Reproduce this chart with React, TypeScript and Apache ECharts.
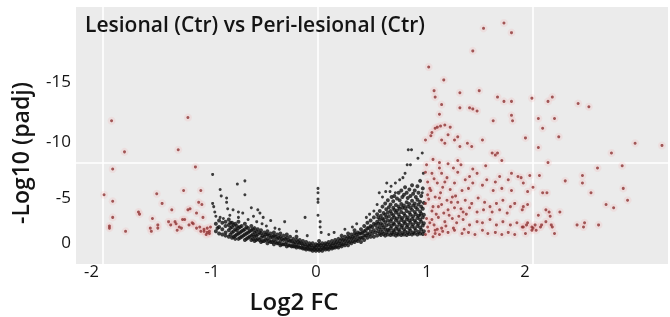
import React, { useEffect, useRef } from 'react';
import * as echarts from 'echarts';

const titleText = 'Lesional (Ctr) vs Peri-lesional (Ctr)';
const xAxisTitle = 'Log2 FC';
const yAxisTitle = '-Log10 (padj)';
const xTickLabels = ['-2', '-1', '0', '1', '2'];
const xTickValues = [-2.107, -0.986, -0.019, 1.014, 1.926];
const yTickLabels = ['0', '-5', '-10', '-15'];
const yTickValues = [0.4, 4.5, 9.8, 15.3];
const xGridValues = [-2, 0, 2];
const yGridValues = [7.66];

// dense V-shaped band of non-significant genes: [log2FC, list of -log10 padj]
const bandColumns: [number, number[]][] = [
  [-0.95, [1.3, 2.0]], [-0.935, [1.6]], [-0.92, [1.1, 1.7, 2.3]], [-0.89, [1.0, 1.5, 2.1]],
  [-0.86, [0.9, 1.2, 1.8, 2.2]], [-0.83, [0.8, 1.4, 1.9, 2.4]], [-0.815, [1.0, 1.6, 2.1]],
  [-0.8, [0.7, 1.2, 1.7, 2.1]], [-0.785, [0.8, 1.3, 1.9]], [-0.77, [0.6, 0.9, 1.5, 2.0]],
  [-0.755, [1.0, 1.4, 1.8]], [-0.74, [0.6, 1.1, 1.6, 2.2]], [-0.725, [0.7, 1.2, 1.7]],
  [-0.71, [0.8, 1.3, 1.8]], [-0.695, [0.9, 1.4]], [-0.68, [0.5, 1.0, 1.5, 2.0]],
  [-0.665, [0.6, 1.1, 1.7]], [-0.65, [0.7, 1.2, 1.6]], [-0.635, [0.8, 1.3]],
  [-0.62, [0.5, 0.9, 1.4, 1.8]], [-0.605, [0.6, 1.0, 1.5]], [-0.59, [0.4, 0.8, 1.2, 1.6]],
  [-0.575, [0.5, 0.9, 1.3]], [-0.56, [0.6, 1.0, 1.5]], [-0.545, [0.5, 1.2]],
  [-0.53, [0.3, 0.7, 1.1, 1.4]], [-0.515, [0.4, 0.9]], [-0.5, [0.4, 0.8, 1.2]],
  [-0.485, [0.5, 1.0]], [-0.47, [0.2, 0.6, 1.0, 1.3]], [-0.455, [0.4, 0.9]],
  [-0.44, [0.3, 0.7, 1.1]], [-0.425, [0.3, 0.8]], [-0.41, [0.1, 0.5, 0.9, 1.2]],
  [-0.395, [0.3, 0.8]], [-0.38, [0.2, 0.6, 1.0]], [-0.365, [0.2, 0.7]],
  [-0.35, [0.0, 0.4, 0.8, 1.1]], [-0.335, [0.1, 0.6]], [-0.32, [0.1, 0.5, 0.9]],
  [-0.305, [0.1, 0.6]], [-0.29, [-0.1, 0.3, 0.7, 1.0]], [-0.275, [0.0, 0.5]],
  [-0.26, [0.0, 0.4, 0.8]], [-0.245, [-0.1, 0.4]], [-0.23, [-0.1, 0.2, 0.6]],
  [-0.215, [-0.1, 0.3]], [-0.2, [-0.2, 0.1, 0.5, 0.8]], [-0.185, [-0.1, 0.3]],
  [-0.17, [-0.2, 0.2, 0.5]], [-0.155, [-0.2, 0.2]], [-0.14, [-0.3, 0.0, 0.4]],
  [-0.125, [-0.3, 0.1]], [-0.11, [-0.4, -0.1, 0.3]], [-0.095, [-0.3, 0.0]],
  [-0.08, [-0.4, -0.1, 0.2]], [-0.065, [-0.4, 0.0]], [-0.05, [-0.5, -0.2, 0.2]],
  [-0.035, [-0.4, -0.1]], [-0.02, [-0.5, -0.2, 0.1]], [-0.005, [-0.4, 0.0]],
  [0.01, [-0.5, -0.2, 0.1, 0.4]], [0.025, [-0.4, 0.0]], [0.04, [-0.5, -0.2, 0.2]],
  [0.055, [-0.3, 0.0]], [0.07, [-0.4, -0.1, 0.2]], [0.085, [-0.3, 0.1]],
  [0.1, [-0.4, -0.1, 0.3]], [0.115, [-0.2, 0.1]], [0.13, [-0.3, 0.0, 0.4]],
  [0.145, [-0.2, 0.2]], [0.16, [-0.2, 0.1, 0.5]], [0.175, [-0.1, 0.3]],
  [0.19, [-0.2, 0.2, 0.6]], [0.205, [0.0, 0.4]], [0.22, [-0.1, 0.2, 0.6, 0.9]],
  [0.235, [0.1, 0.5]], [0.25, [0.0, 0.4, 0.8]], [0.265, [0.2, 0.6]],
  [0.28, [0.0, 0.4, 0.8, 1.1]], [0.295, [0.3, 0.7]], [0.31, [0.2, 0.6, 1.0]],
  [0.325, [0.4, 0.8]], [0.34, [0.3, 0.7, 1.1, 1.4]], [0.355, [0.5, 1.0]],
  [0.37, [0.4, 0.8, 1.2]], [0.385, [0.6, 1.1]], [0.4, [0.3, 0.7, 1.1, 1.5]],
  [0.415, [0.7, 1.2]], [0.43, [0.5, 0.9, 1.3, 1.8]], [0.445, [0.9, 1.4]],
  [0.46, [0.7, 1.1, 1.6, 2.1]], [0.475, [1.0, 1.6]], [0.49, [0.8, 1.3, 1.8, 2.3]],
  [0.505, [1.1, 1.7]], [0.52, [0.8, 1.4, 2.0, 2.6]], [0.535, [1.2, 1.9]],
  [0.55, [0.9, 1.6, 2.2, 2.9]], [0.56, [1.3, 2.0, 2.6]], [0.575, [1.1, 1.7, 2.4, 3.2]],
  [0.585, [0.95, 1.45, 2.05, 2.75]], [0.6, [1.25, 1.9, 2.5, 3.6]], [0.61, [1.05, 1.65, 2.35, 3.0]],
  [0.625, [0.9, 1.5, 2.15, 2.85, 3.9]], [0.635, [1.2, 1.85, 2.6, 3.35]],
  [0.65, [1.0, 1.45, 2.3, 3.05, 4.2]], [0.66, [1.35, 1.95, 2.7, 3.55]],
  [0.675, [0.95, 1.6, 2.25, 3.2, 3.8]], [0.685, [1.15, 1.8, 2.45, 2.95, 4.5]],
  [0.7, [1.0, 1.4, 2.05, 2.8, 3.5, 4.1]], [0.71, [1.25, 1.95, 2.6, 3.3, 4.6]],
  [0.725, [0.9, 1.55, 2.3, 3.05, 3.75]], [0.735, [1.1, 1.75, 2.5, 3.25, 4.35]],
  [0.75, [1.0, 1.45, 2.15, 2.9, 3.6, 4.9]], [0.76, [1.3, 1.95, 2.65, 3.4, 4.2]],
  [0.775, [0.95, 1.65, 2.35, 3.1, 3.85, 5.1]], [0.785, [1.15, 1.85, 2.55, 3.5, 4.5]],
  [0.8, [1.0, 1.5, 2.2, 2.95, 3.7, 4.7]], [0.81, [1.3, 2.05, 2.75, 3.45, 5.4]],
  [0.825, [0.95, 1.7, 2.4, 3.2, 4.0, 4.9]], [0.835, [1.2, 1.9, 2.6, 3.6, 4.4]],
  [0.85, [1.05, 1.55, 2.3, 3.05, 3.85, 5.2]], [0.86, [1.35, 2.1, 2.85, 3.5, 4.6]],
  [0.875, [1.0, 1.75, 2.45, 3.3, 4.15, 5.6]], [0.885, [1.2, 1.95, 2.7, 3.7, 4.8]],
  [0.9, [1.1, 1.6, 2.3, 3.1, 3.9, 5.1]], [0.91, [1.4, 2.15, 2.9, 3.55, 4.5]],
  [0.925, [1.0, 1.8, 2.55, 3.35, 4.25, 5.5]], [0.935, [1.25, 2.0, 2.75, 3.8, 4.9]],
  [0.95, [1.1, 1.65, 2.4, 3.15, 4.05, 6.0]], [0.96, [1.45, 2.2, 2.95, 3.6, 4.6]],
  [0.975, [1.05, 1.85, 2.6, 3.4, 5.3]], [0.985, [1.3, 2.05, 2.85, 3.95]],
];

// scattered non-significant genes above the band
const blackScatter: [number, number][] = [
  [-0.98, 6.6], [-0.98, 3.9], [-0.97, 3.6], [-0.96, 3.1], [-0.95, 2.7], [-0.91, 5.2], [-0.9, 4.6],
  [-0.91, 2.6], [-0.88, 2.5], [-0.85, 4.4], [-0.85, 4.0], [-0.82, 2.8], [-0.84, 3.4], [-0.79, 3.3],
  [-0.75, 5.7], [-0.74, 3.1], [-0.74, 2.6], [-0.7, 3.0], [-0.68, 6.0], [-0.68, 4.7], [-0.65, 2.4],
  [-0.62, 3.5], [-0.6, 2.7], [-0.57, 2.2], [-0.56, 3.3], [-0.54, 3.0], [-0.52, 2.0], [-0.51, 2.6],
  [-0.48, 1.8], [-0.44, 2.3], [-0.4, 1.6], [-0.36, 1.5], [-0.31, 2.2], [-0.2, 1.3], [-0.12, 2.6],
  [-0.1, 0.9], [0.0, 5.3], [0.0, 4.9], [0.0, 4.3], [0.0, 4.0], [0.0, 2.8], [0.02, 2.2], [0.02, 1.7],
  [0.03, 1.2], [0.1, 1.0], [0.15, 1.2], [0.25, 1.5], [0.32, 1.7], [0.36, 2.0], [0.45, 2.6],
  [0.48, 2.9], [0.52, 3.2], [0.55, 3.8], [0.57, 4.9], [0.6, 4.5], [0.63, 5.0], [0.64, 5.8],
  [0.67, 5.0], [0.68, 5.5], [0.72, 5.8], [0.72, 4.9], [0.76, 6.1], [0.79, 6.3], [0.81, 6.7],
  [0.83, 7.5], [0.86, 7.5], [0.84, 8.9], [0.87, 8.9], [0.93, 8.1], [0.98, 6.7], [0.97, 8.6],
  [0.97, 4.9], [0.95, 2.8],
];

// significant, down-regulated
const redLeft: [number, number][] = [
  [-1.92, 11.6], [-1.21, 11.9], [-1.8, 8.7], [-1.3, 8.9], [-1.91, 7.1], [-1.99, 4.7], [-1.91, 4.1],
  [-1.91, 2.6], [-1.94, 1.8], [-1.94, 1.6], [-1.79, 1.3], [-1.67, 3.1], [-1.66, 2.9], [-1.56, 1.6],
  [-1.55, 1.3], [-1.5, 4.8], [-1.45, 3.9], [-1.54, 2.5], [-1.49, 1.9], [-1.49, 1.6], [-1.39, 2.2],
  [-1.37, 1.9], [-1.36, 3.3], [-1.33, 2.2], [-1.32, 2.0], [-1.31, 1.4], [-1.29, 1.7], [-1.26, 2.4],
  [-1.27, 1.6], [-1.25, 5.1], [-1.24, 2.4], [-1.21, 3.3], [-1.19, 3.4], [-1.2, 1.9], [-1.17, 2.1],
  [-1.16, 2.0], [-1.14, 7.3], [-1.13, 3.0], [-1.13, 1.6], [-1.11, 4.0], [-1.09, 5.1], [-1.08, 3.8],
  [-1.07, 2.6], [-1.1, 1.7], [-1.09, 1.3], [-1.06, 1.5], [-1.06, 1.3], [-1.03, 1.6], [-1.03, 1.2],
  [-1.04, 1.0], [-1.01, 1.1], [-1.01, 1.3], [-1.0, 1.7],
];

// significant, up-regulated, high -log10 padj
const redUpper: [number, number][] = [
  [1.54, 20.2], [1.73, 20.7], [1.8, 19.8], [1.44, 18.1], [1.03, 16.6], [1.17, 15.4], [1.08, 14.4],
  [1.09, 13.8], [1.32, 14.2], [1.5, 14.4], [1.67, 13.8], [1.73, 13.4], [1.8, 13.4], [1.15, 13.1],
  [1.32, 12.8], [1.41, 12.8], [1.44, 12.7], [1.48, 12.5], [1.13, 12.2], [1.8, 12.1], [1.81, 11.6],
  [1.63, 11.6], [1.99, 13.7], [2.14, 13.4], [2.18, 13.8], [2.05, 11.8], [2.2, 11.8], [2.42, 13.2],
  [2.52, 12.9], [2.09, 10.9], [2.24, 10.1], [2.05, 9.1], [1.93, 10.0], [2.95, 9.5], [2.73, 8.6],
  [1.14, 11.1], [1.18, 11.2], [1.23, 11.0], [1.06, 10.5], [1.09, 10.9], [1.0, 9.8], [1.21, 10.3],
  [1.3, 10.1], [1.32, 9.2], [1.39, 9.5], [1.53, 9.8], [1.62, 8.6], [1.65, 8.4], [1.67, 8.6],
  [1.43, 9.2], [1.15, 9.8], [1.18, 9.5], [1.27, 9.8], [3.2, 9.3], [1.05, 10.2], [1.11, 11.0],
];

// significant, up-regulated, main cloud
const redCloud: [number, number][] = [
  [1.71, 7.9], [1.3, 7.9], [1.13, 7.7], [1.0, 6.8], [1.06, 6.7], [1.15, 6.7], [1.2, 6.3], [1.26, 7.2],
  [1.3, 6.8], [1.37, 6.1], [1.41, 6.4], [1.44, 5.8], [1.48, 6.7], [1.53, 5.6], [1.57, 6.1], [1.65, 5.9],
  [1.69, 6.4], [1.77, 6.1], [1.8, 6.7], [1.86, 6.4], [1.91, 5.8], [1.97, 6.5], [1.27, 5.8], [1.11, 5.8],
  [1.16, 5.4], [1.04, 5.3], [1.34, 5.1], [1.4, 5.3], [1.63, 5.1], [1.71, 5.3], [1.8, 5.1],
  [1.02, 4.7], [1.09, 4.5], [1.13, 4.4], [1.2, 4.2], [1.25, 4.5], [1.3, 4.0], [1.37, 4.2], [1.43, 3.9],
  [1.49, 4.4], [1.55, 4.0], [1.6, 3.6], [1.66, 3.9], [1.72, 4.2], [1.79, 3.6], [1.83, 3.9], [1.9, 3.3],
  [1.95, 3.8], [1.0, 3.9], [1.07, 3.6], [1.15, 3.8], [1.21, 3.3], [1.27, 3.5], [1.35, 3.1], [1.41, 3.5],
  [1.48, 3.1], [1.54, 3.3], [1.62, 3.1], [1.69, 3.3], [1.76, 3.0],
  [1.01, 2.5], [1.06, 2.4], [1.12, 2.6], [1.18, 2.2], [1.25, 2.5], [1.29, 2.1], [1.35, 2.4], [1.41, 1.9],
  [1.48, 2.2], [1.53, 2.1], [1.6, 2.4], [1.66, 1.9], [1.72, 2.2], [1.79, 1.9], [1.85, 2.1], [1.9, 1.7],
  [1.95, 2.1], [2.0, 1.6], [1.02, 1.7], [1.09, 1.4], [1.15, 1.6], [1.21, 1.2], [1.27, 1.4], [1.34, 1.1],
  [1.4, 1.2], [1.46, 1.0], [1.53, 1.4], [1.58, 1.1], [1.65, 1.2], [1.71, 1.0], [1.77, 1.2], [1.83, 1.0],
  [1.93, 1.1], [1.0, 1.0], [1.07, 0.8], [1.13, 1.0],
  [1.02, 5.9], [1.05, 5.1], [1.08, 6.2], [1.03, 4.3], [1.06, 3.2], [1.1, 2.9], [1.04, 2.1], [1.08, 1.9],
  [1.12, 3.6], [1.14, 4.9], [1.17, 3.0], [1.19, 1.8], [1.22, 2.8], [1.24, 4.0], [1.11, 1.5], [1.16, 1.3],
  [1.03, 1.3], [1.09, 1.1], [1.26, 1.6], [1.31, 2.7], [1.33, 3.4], [1.36, 1.5], [1.38, 2.9], [1.23, 5.2],
  [1.28, 4.6], [1.18, 5.9], [1.13, 7.2], [1.01, 7.5], [1.07, 8.0], [1.21, 7.6], [1.33, 7.5], [1.44, 7.1],
  [1.56, 7.4],
];

// significant, up-regulated, far right
const redFar: [number, number][] = [
  [2.14, 7.7], [2.6, 7.2], [2.83, 7.4], [1.89, 6.3], [2.06, 6.5], [2.3, 6.0], [2.46, 6.5], [2.46, 5.8],
  [2.84, 5.3], [2.88, 4.2], [2.54, 4.9], [2.0, 5.4], [1.95, 5.0], [2.09, 4.9], [2.13, 4.9], [2.68, 3.8],
  [2.75, 3.5], [1.91, 3.6], [2.25, 3.1], [2.12, 3.3], [2.15, 3.1], [2.05, 2.8], [2.16, 2.7], [2.12, 2.2],
  [2.17, 1.9], [2.18, 1.7], [1.91, 1.7], [1.94, 1.9], [1.99, 1.7], [2.02, 1.9], [2.03, 1.4], [1.99, 1.4],
  [2.07, 1.7], [2.08, 1.9], [2.2, 1.1], [2.41, 1.9], [2.47, 1.7], [2.48, 2.1], [2.61, 1.9],
];

const FONT = "'Open Sans', 'DejaVu Sans', sans-serif";

function nearestLabel(v: number, values: number[], labels: string[]) {
  let best = 0;
  for (let i = 1; i < values.length; i++) {
    if (Math.abs(values[i] - v) < Math.abs(values[best] - v)) best = i;
  }
  return labels[best];
}

export default function App() {
  const ref = useRef<HTMLDivElement>(null);
  useEffect(() => {
    if (!ref.current) return;
    const chart = echarts.init(ref.current, undefined, { renderer: 'svg' });
    const band: [number, number][] = [];
    bandColumns.forEach(([x, ys]) => ys.forEach((y) => band.push([x, y])));
    const red = [...redLeft, ...redUpper, ...redCloud, ...redFar];

    chart.setOption({
      animation: false,
      title: {
        text: titleText,
        left: 80,
        top: 8,
        textStyle: { fontFamily: FONT, fontSize: 21, fontWeight: 600, color: '#141414' },
      },
      grid: {
        left: 76, top: 7, width: 592, height: 257,
        show: true, backgroundColor: '#ebebeb', borderWidth: 0,
      },
      xAxis: {
        type: 'value', min: -2.251, max: 3.256,
        axisLine: { show: false }, axisTick: { show: false }, splitLine: { show: false },
        axisLabel: {
          customValues: xTickValues,
          formatter: (v: number) => nearestLabel(v, xTickValues, xTickLabels),
          fontFamily: FONT, fontSize: 16.5, lineHeight: 17, color: '#141414', margin: -2,
        },
      },
      yAxis: {
        type: 'value', min: -1.741, max: 22.188,
        axisLine: { show: false }, axisTick: { show: false }, splitLine: { show: false },
        axisLabel: {
          customValues: yTickValues,
          formatter: (v: number) => nearestLabel(v, yTickValues, yTickLabels),
          fontFamily: FONT, fontSize: 17, color: '#141414', margin: 5,
        },
      },
      graphic: [
        {
          type: 'text', x: 294, y: 300,
          style: { text: xAxisTitle, fontFamily: FONT, fontSize: 24, lineHeight: 24, fontWeight: 600, fill: '#141414', align: 'center', verticalAlign: 'middle' },
        },
        {
          type: 'text', x: 20, y: 153, rotation: Math.PI / 2,
          style: { text: yAxisTitle, fontFamily: FONT, fontSize: 23, fontWeight: 600, fill: '#141414', align: 'center', verticalAlign: 'middle' },
        },
      ],
      series: [
        {
          type: 'scatter', data: [], z: 0, silent: true,
          markLine: {
            silent: true, symbol: 'none', label: { show: false }, z: 0,
            lineStyle: { color: '#ffffff', width: 1.6, type: 'solid' },
            data: [...xGridValues.map((v) => ({ xAxis: v })), ...yGridValues.map((v) => ({ yAxis: v }))],
          },
        },
        {
          type: 'scatter', data: red, z: 2, silent: true, symbolSize: 8,
          itemStyle: { color: 'rgba(245,140,140,0.16)' },
        },
        {
          type: 'scatter', data: band, z: 3, symbolSize: 4,
          itemStyle: { color: '#101010' },
        },
        {
          type: 'scatter', data: blackScatter, z: 3, symbolSize: 3,
          itemStyle: { color: '#101010' },
        },
        {
          type: 'scatter', data: red, z: 4, symbolSize: 3,
          itemStyle: { color: '#8e3232' },
        },
      ],
    });
    return () => chart.dispose();
  }, []);
  return <div ref={ref} style={{ position: 'fixed', left: 0, top: 0, width: 670, height: 317 }} />;
}
